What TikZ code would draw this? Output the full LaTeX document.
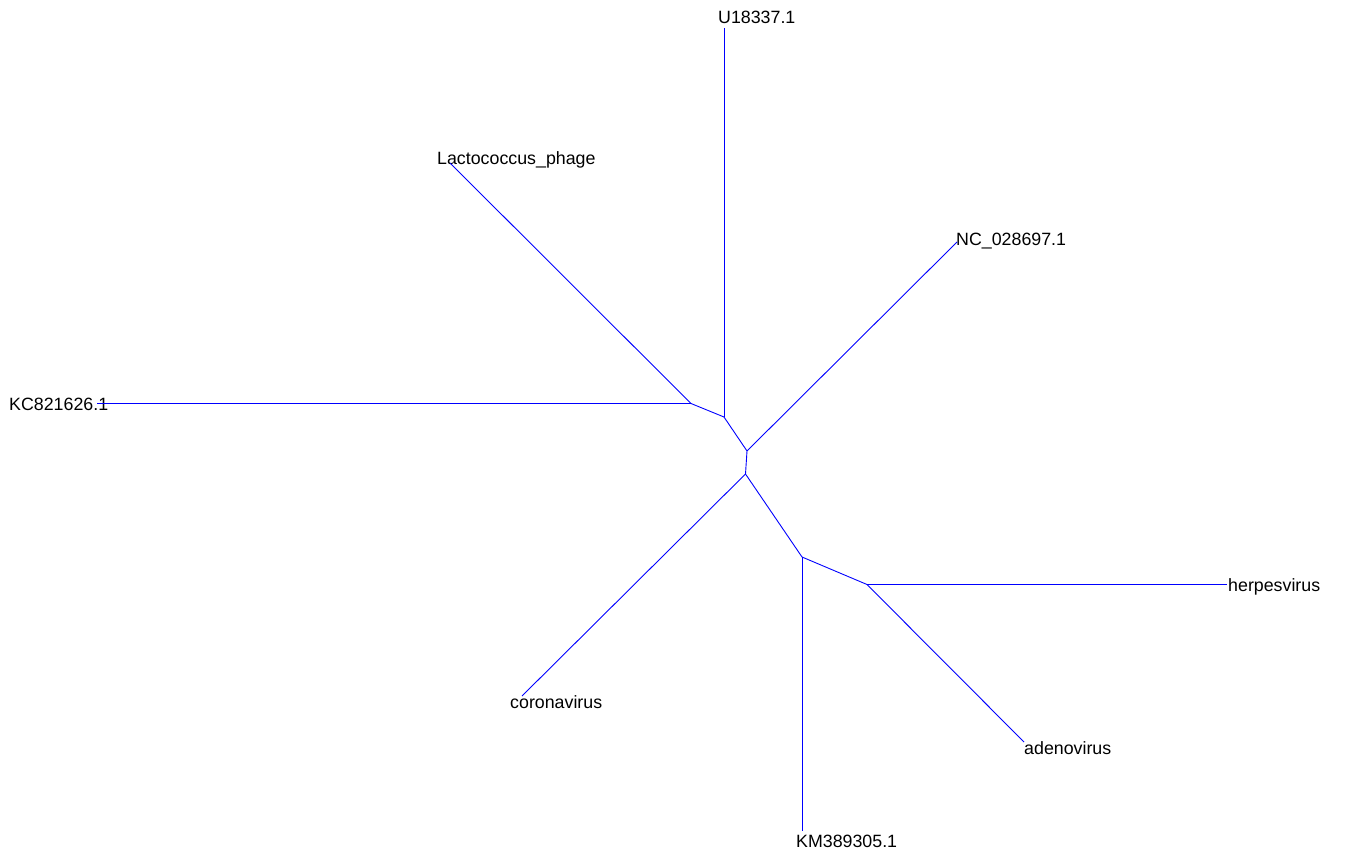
\documentclass[tikz,border=0pt]{standalone}
\usepackage{fontspec}
\setmainfont{Liberation Sans}
\begin{document}
\begin{tikzpicture}[x=1pt,y=-1pt,
  branch/.style={draw=blue,line width=0.9pt},
  tiplabel/.style={anchor=base west,inner sep=0pt,font=\fontsize{17.8}{20}\selectfont}]
\useasboundingbox (0,0) rectangle (1350,867);
% internal nodes
\coordinate (n1) at (691,403.5);
\coordinate (n2) at (724,417);
\coordinate (n3) at (747,451);
\coordinate (n4) at (745.5,474);
\coordinate (n5) at (802,557);
\coordinate (n6) at (867,584.5);
% tips
\coordinate (tKC) at (97,403.5);
\coordinate (tLa) at (450,163);
\coordinate (tU) at (724,28);
\coordinate (tNC) at (957,242);
\coordinate (tCo) at (522,696);
\coordinate (tKM) at (802,831);
\coordinate (tHe) at (1227,584.5);
\coordinate (tAd) at (1024,742);
% labels
\node[tiplabel] (lU) at (718,24) {U18337.1};
\node[tiplabel] (lLa) at (437,164) {Lactococcus\_phage};
\node[tiplabel] (lNC) at (956,245) {NC\_028697.1};
\node[tiplabel] (lKC) at (9,410) {KC821626.1};
\node[tiplabel] (lHe) at (1228,591) {herpesvirus};
\node[tiplabel] (lCo) at (510,708) {coronavirus};
\node[tiplabel] (lAd) at (1024,754) {adenovirus};
\node[tiplabel] (lKM) at (796,847) {KM389305.1};
% branches
\draw[branch] (n1) -- (tKC);
\draw[branch] (n1) -- (tLa);
\draw[branch] (n1) -- (n2);
\draw[branch] (n2) -- (tU);
\draw[branch] (n2) -- (n3);
\draw[branch] (n3) -- (tNC);
\draw[branch] (n3) -- (n4);
\draw[branch] (n4) -- (tCo);
\draw[branch] (n4) -- (n5);
\draw[branch] (n5) -- (tKM);
\draw[branch] (n5) -- (n6);
\draw[branch] (n6) -- (tHe);
\draw[branch] (n6) -- (tAd);
\end{tikzpicture}
\end{document}
